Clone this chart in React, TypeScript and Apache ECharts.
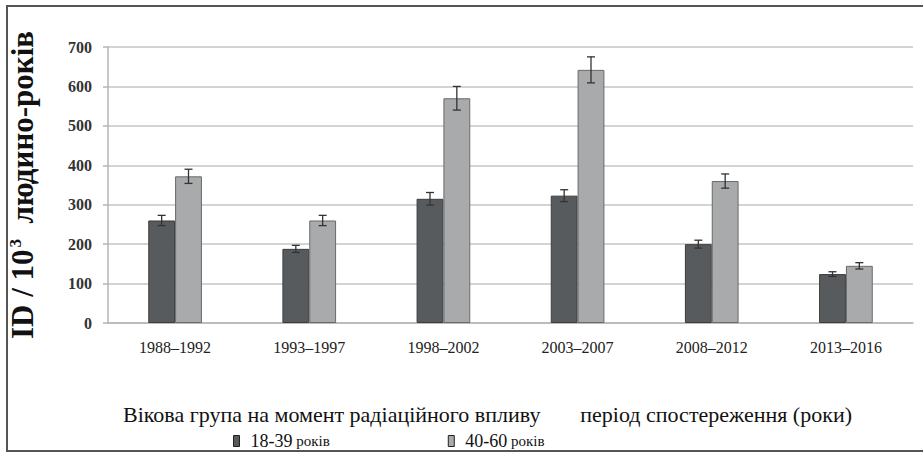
import React, { useEffect, useRef } from "react";
import * as echarts from "echarts";

const categories = ["1988–1992", "1993–1997", "1998–2002", "2003–2007", "2008–2012", "2013–2016"];
const youngValues = [260, 188, 315, 323, 200, 124];
const youngErrors = [13, 9, 16, 15, 10, 6];
const olderValues = [372, 260, 570, 642, 360, 145];
const olderErrors = [18, 13, 30, 33, 18, 8];
const seriesNames = ["18-39 років", "40-60 років"];
const yTicks = { min: 0, max: 700, interval: 100 };

const SERIF = "Liberation Serif";

export default function App() {
  const ref = useRef<HTMLDivElement>(null);
  useEffect(() => {
    if (!ref.current) return;
    const chart = echarts.init(ref.current, null, { renderer: "svg" });
    const errData = (vals: number[], errs: number[]) => vals.map((v, i) => [i, v, errs[i]]);
    const errSeries = (name: string, vals: number[], errs: number[], side: number) => ({
      type: "custom",
      name,
      z: 5,
      silent: true,
      encode: { x: 0, y: 1 },
      data: errData(vals, errs),
      renderItem: (params: any, api: any) => {
        const idx = api.value(0);
        const v = api.value(1);
        const e = api.value(2);
        const bw = api.size([1, 0])[0];
        const off = side * bw * 0.1;
        const top = api.coord([idx, v + e]);
        const bot = api.coord([idx, v - e]);
        const x = top[0] + off;
        const cap = 4;
        const st = { stroke: "#333", lineWidth: 1.3 };
        return {
          type: "group",
          children: [
            { type: "line", shape: { x1: x, y1: top[1], x2: x, y2: bot[1] }, style: st },
            { type: "line", shape: { x1: x - cap, y1: top[1], x2: x + cap, y2: top[1] }, style: st },
            { type: "line", shape: { x1: x - cap, y1: bot[1], x2: x + cap, y2: bot[1] }, style: st },
          ],
        };
      },
    });
    chart.setOption({
      animation: false,
      backgroundColor: "#fff",
      grid: { left: 108, right: 10, top: 47, bottom: 129, containLabel: false, outerBoundsMode: "none" },
      xAxis: {
        type: "category",
        data: categories,
        axisLine: { show: true, lineStyle: { color: "#b5b5b5", width: 1.5 } },
        axisTick: { show: false },
        axisLabel: { color: "#222", fontFamily: SERIF, fontSize: 16, margin: 16 },
      },
      yAxis: {
        type: "value",
        min: yTicks.min,
        max: yTicks.max,
        interval: yTicks.interval,
        axisLine: { show: true, lineStyle: { color: "#b5b5b5", width: 1.5 } },
        axisTick: { show: true, length: 5, lineStyle: { color: "#b5b5b5", width: 1.5 } },
        splitLine: { show: true, lineStyle: { color: "#c4c4c4", width: 1.5 } },
        axisLabel: { color: "#333", fontFamily: SERIF, fontSize: 16, fontWeight: "bold", margin: 16 },
        name: "{a|ID / 10}{s|3}{a|  людино-років}",
        nameLocation: "middle",
        nameRotate: 90,
        nameGap: 70,
        nameTextStyle: {
          rich: {
            a: { fontFamily: SERIF, fontSize: 31, fontWeight: "bold", color: "#111" },
            s: { fontFamily: SERIF, fontSize: 17, fontWeight: "bold", color: "#111", verticalAlign: "top", padding: [0, 0, 14, 2] },
          },
        },
      },
      legend: {
        data: seriesNames,
        left: 233,
        top: 432,
        padding: 0,
        itemWidth: 6,
        itemHeight: 11,
        itemGap: 118,
        icon: "rect",
        itemStyle: { borderColor: "#222", borderWidth: 1 },
        textStyle: {
          color: "#111",
          rich: {
            n: { fontFamily: SERIF, fontSize: 18, color: "#111", padding: [0, 0, 0, 6] },
            r: { fontFamily: SERIF, fontSize: 15, color: "#111" },
          },
        },
        formatter: (name: string) => {
          const parts = name.split(" ");
          return `{n|${parts[0]}}{r| ${parts[1]}}`;
        },
      },
      graphic: [
        {
          type: "rect",
          shape: { x: 7, y: 6, width: 940, height: 445 },
          style: { fill: "none", stroke: "#555", lineWidth: 2 },
          silent: true,
          z: 100,
        },
        {
          type: "text",
          x: 123,
          y: 414,
          style: {
            text: "Вікова група на момент радіаційного впливу",
            fontFamily: SERIF,
            fontSize: 22,
            fill: "#111",
            textAlign: "left",
            textVerticalAlign: "middle",
          },
        },
        {
          type: "text",
          x: 852,
          y: 414,
          style: {
            text: "період спостереження (роки)",
            fontFamily: SERIF,
            fontSize: 22,
            fill: "#111",
            textAlign: "right",
            textVerticalAlign: "middle",
          },
        },
      ],
      series: [
        {
          type: "bar",
          name: seriesNames[0],
          data: youngValues,
          barWidth: "20%",
          barGap: "0%",
          itemStyle: { color: "#585b5d", borderColor: "#3c3c3c", borderWidth: 1 },
        },
        {
          type: "bar",
          name: seriesNames[1],
          data: olderValues,
          barWidth: "20%",
          barGap: "0%",
          itemStyle: { color: "#a8aaac", borderColor: "#6a6a6a", borderWidth: 1 },
        },
        errSeries("err1", youngValues, youngErrors, -1),
        errSeries("err2", olderValues, olderErrors, 1),
      ],
    });
    return () => chart.dispose();
  }, []);
  return (
    <div
      ref={ref}
      style={{ position: "absolute", left: 0, top: 0, width: 923, height: 452 }}
    />
  );
}
